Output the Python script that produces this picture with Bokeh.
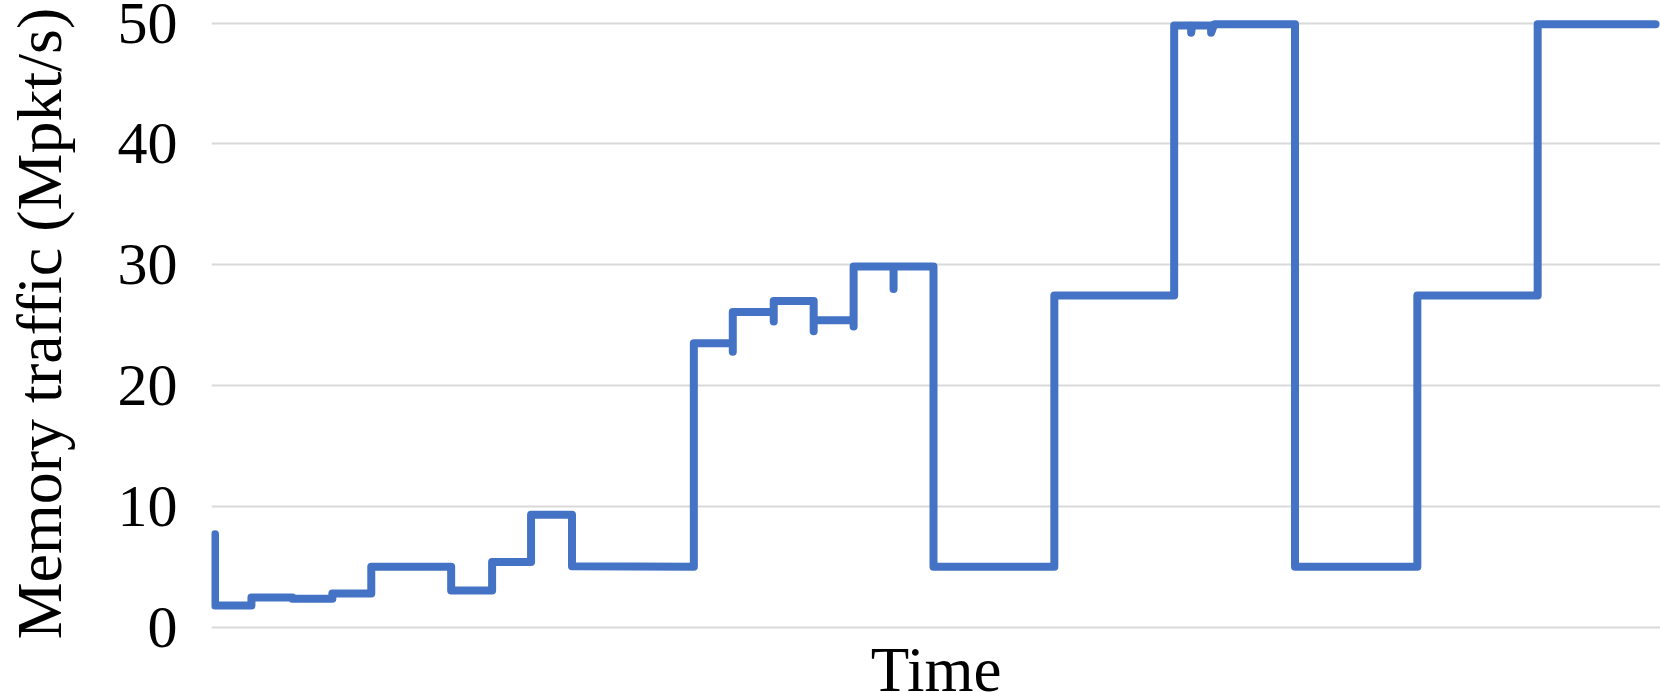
from bokeh.plotting import figure
from bokeh.models import ColumnDataSource, FixedTicker, Range1d, Title
from bokeh.embed import file_html
from bokeh.resources import INLINE

# Time (arbitrary units) and memory traffic (Mpkt/s)
time = [0.5, 0.5, 37, 37, 78, 78, 118, 118, 157, 157, 237, 237, 278, 278, 317, 317,
        358, 358, 480, 480, 519, 519, 519, 560, 560, 560, 600, 600, 600, 640, 640, 640,
        680, 680, 680, 720, 720, 841, 841, 961, 961, 978, 978, 979, 998, 998, 1001,
        1082, 1082, 1204.5, 1204.5, 1325, 1325, 1443]
traffic = [7.7, 1.8, 1.8, 2.45, 2.45, 2.35, 2.35, 2.8, 2.8, 5.0, 5.0, 3.05, 3.05, 5.4, 5.4, 9.3,
           9.3, 5.05, 5.0, 23.5, 23.5, 22.8, 26.1, 26.1, 25.3, 27.0, 27.0, 24.5, 25.4, 25.4, 24.9, 29.85,
           29.85, 28.0, 29.85, 29.85, 5.0, 5.0, 27.45, 27.45, 49.8, 49.8, 49.2, 49.8, 49.8, 49.2, 49.9,
           49.9, 5.0, 5.0, 27.45, 27.45, 49.9, 49.9]
y_ticks = [0, 10, 20, 30, 40, 50]
y_label = "Memory traffic (Mpkt/s)"
x_label = "Time"

SERIF = "Liberation Serif"

p = figure(width=1660, height=692, output_backend="svg", toolbar_location=None,
           x_range=Range1d(-3, 1448), y_range=Range1d(-1.43, 51.71),
           x_axis_location=None,
           min_border_left=209, min_border_right=0, min_border_top=2, min_border_bottom=48)
p.outline_line_color = None
p.background_fill_color = "white"
p.border_fill_color = "white"

src = ColumnDataSource(dict(t=time, v=traffic))
p.line("t", "v", source=src, line_color="#4472C4", line_width=8,
       line_join="round", line_cap="round")

p.xgrid.visible = False

yax = p.yaxis[0]
yax.ticker = FixedTicker(ticks=y_ticks)
yax.axis_line_color = None
yax.major_tick_line_color = None
yax.minor_tick_line_color = None
yax.major_tick_out = 0
yax.major_tick_in = 0
yax.major_label_standoff = 34
yax.major_label_text_font = SERIF
yax.major_label_text_font_size = "60px"
yax.major_label_text_color = "black"
yax.axis_label = y_label
yax.axis_label_text_font = SERIF
yax.axis_label_text_font_size = "64px"
yax.axis_label_text_font_style = "normal"
yax.axis_label_text_color = "black"
yax.axis_label_standoff = 40

p.ygrid.ticker = FixedTicker(ticks=y_ticks)
p.ygrid.grid_line_color = "#d9d9d9"
p.ygrid.grid_line_width = 2

# x-axis title (the x axis itself has no ticks or labels)
p.add_layout(Title(text=x_label, align="center", vertical_align="bottom", standoff=-24,
                   text_font=SERIF, text_font_size="63px", text_font_style="normal",
                   text_color="black"), "below")

open("out.html", "w").write(file_html(p, INLINE))
